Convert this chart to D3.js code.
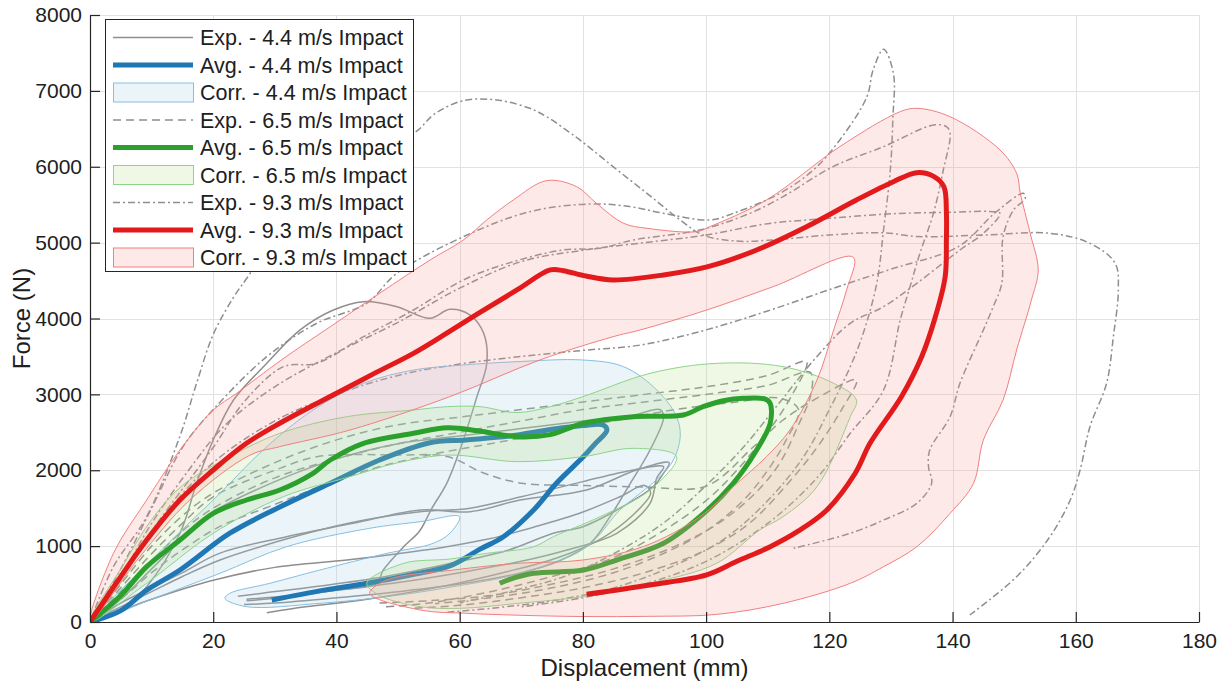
<!DOCTYPE html>
<html>
<head>
<meta charset="utf-8">
<script src="https://cdn.jsdelivr.net/npm/d3@7"></script>
<style>
  body { margin: 0; background: #fff; }
  text { font-family: "Liberation Sans", Arial, sans-serif; fill: #202020; }
</style>
</head>
<body>
<svg id="chart" width="1225" height="682"></svg>
<script>
// ---- axis ticks ----
const xTicks = [0, 20, 40, 60, 80, 100, 120, 140, 160, 180];
const yTicks = [0, 1000, 2000, 3000, 4000, 5000, 6000, 7000, 8000];

// ---- legend entries ----
const legendLabels = [
  "Exp. - 4.4 m/s Impact", "Avg. - 4.4 m/s Impact", "Corr. - 4.4 m/s Impact",
  "Exp. - 6.5 m/s Impact", "Avg. - 6.5 m/s Impact", "Corr. - 6.5 m/s Impact",
  "Exp. - 9.3 m/s Impact", "Avg. - 9.3 m/s Impact", "Corr. - 9.3 m/s Impact"
];

// ---- 4.4 m/s: experiments [displacement mm, force N] ----
const exp44a = [[0,0],[5,150],[9.2,465],[14.6,1169],[17.3,1828],[20,2399],[23.3,2926],[28.7,3409],[34.1,3849],[39.5,4112],[44.4,4222],[49.8,4156],[55.2,4003],[58.4,4122],[61.7,4046],[63.9,3805],[64.4,3409],[62.8,2970],[60.6,2399],[57.9,1828],[55.5,1500],[53.5,1200],[50.9,992],[47.6,685],[46.5,510],[40,420],[32,330],[25.4,280]];
const exp44b = [[0,0],[5,300],[10,700],[15,1100],[20,1450],[30,1850],[40,2150],[50,2350],[60,2450],[70,2550],[80,2650],[88,2720],[92.5,2800],[93.1,2700],[90.9,2267],[87.7,1828],[84.4,1388],[81.2,1037],[76,800],[70,650],[60,500],[50,400],[40,320],[30,250],[25,230]];
const exp44c = [[0,0],[5,200],[10,400],[15,600],[21.1,817],[30,1050],[37.3,1213],[45,1350],[53.6,1454],[61.7,1500],[70,1650],[80,1850],[88,2000],[93.1,2047],[92,1900],[90.9,1564],[85.5,1169],[77.4,949],[70,800],[60,650],[50,520],[40,420],[30,330],[25.4,300]];
const exp44d = [[0,0],[5,250],[10,450],[15,650],[21,905],[31.9,1124],[42.7,1300],[53.6,1476],[61.7,1454],[69.8,1608],[80.6,1740],[88.7,2003],[94,2100],[93,1950],[91.4,1783],[85.5,1476],[80,1256],[75.2,1169],[68,950],[59,780],[48,600],[37,470],[28,380],[24,340]];
const exp44e = [[0,0],[5,150],[10,300],[20,550],[30,720],[41.7,817],[50,900],[57.9,992],[65,1100],[72,1250],[80,1450],[86,1650],[90,1800],[91,1700],[88,1400],[83,1100],[76,850],[67,650],[56,450],[45,300],[35,200],[28.7,123]];

// ---- 4.4 m/s: average and corridor ----
const avg44 = [[0,0],[5,150],[9.2,420],[14.6,685],[22.7,1170],[30.8,1515],[39,1830],[47,2135],[55,2360],[61,2400],[68,2450],[75,2540],[80,2590],[83.3,2596],[83.9,2530],[82,2350],[80.1,2180],[75.7,1828],[72,1476],[67.1,1124],[63.3,960],[58.4,740],[52,620],[45,510],[38,420],[29.5,290]];
const corr44 = [[0,0],[5,420],[10,820],[15,1220],[21.1,1696],[28.1,2267],[36.2,2794],[44.4,3146],[52.5,3321],[60.6,3387],[69.3,3431],[80,3453],[86.6,3365],[92,3058],[95.2,2706],[95.8,2442],[94.7,2135],[92.5,1915],[89.3,1696],[86,1476],[80.6,992],[69.8,642],[59,466],[48.2,334],[37.3,246],[25.4,202],[21.9,312],[22.7,378],[29.2,510],[37.3,685],[48.2,905],[55.7,1037],[58.4,1169],[60,1388],[53.6,1322],[45.4,1235],[31.9,992],[21.1,642],[10,300]];

// ---- 6.5 m/s: experiments ----
const exp65a = [[0,0],[5,500],[10,1000],[15,1400],[20,1700],[30,2100],[40,2400],[50,2600],[60,2700],[70,2800],[80,2900],[90,3000],[100,3100],[110,3250],[116.3,3431],[114,3000],[110,2500],[105,2000],[100,1600],[93,1200],[85,850],[75,600],[65,400],[55,250],[48,200]];
const exp65b = [[0,0],[5,400],[10,800],[15,1200],[20,1500],[30,1900],[40,2150],[50,2350],[60,2500],[70,2650],[80,2800],[90,2900],[100,3000],[110,3120],[116.9,3290],[117,3000],[115,2600],[112,2100],[108,1700],[102,1300],[95,1000],[85,700],[75,500],[65,350],[55,280],[47,250]];
const exp65c = [[0,0],[5,450],[10,900],[15,1300],[20,1650],[30,2000],[37,2180],[50,2200],[58,2180],[64,1960],[70,1830],[80,1800],[90,1780],[100,1790],[107.7,2310],[112.5,2662],[118,2950],[124.4,3190],[122,2800],[118,2300],[113,1800],[107,1300],[100,950],[90,650],[80,450],[70,320],[60,220],[52,180]];
const exp65d = [[0,0],[5,300],[10,650],[15,950],[21,1256],[30,1550],[37.3,1783],[45,2000],[55,2200],[65,2350],[75,2500],[85,2650],[95,2800],[105,2900],[112,2950],[115,2800],[113,2400],[110,2000],[106,1600],[100,1200],[93,900],[85,650],[75,450],[65,320],[56,240]];

// ---- 6.5 m/s: average and corridor ----
const avg65 = [[0,0],[5,350],[9.2,729],[14.6,1080],[20,1432],[25.4,1608],[30.8,1740],[36.2,1960],[39,2135],[44.4,2355],[52.5,2487],[58,2560],[63,2520],[69.3,2442],[74.7,2470],[80.1,2619],[88.2,2706],[96.3,2728],[99.5,2838],[103,2920],[106,2948],[109.5,2940],[110.4,2882],[110.4,2619],[108.2,2267],[104.4,1828],[99,1388],[93.1,1037],[85.5,817],[80.1,685],[72,642],[68,560],[66.5,510]];
const corr65 = [[0,0],[5,700],[10,1350],[15,1800],[22.7,2179],[30.8,2487],[41.7,2706],[52.5,2794],[58,2838],[63.3,2838],[69.3,2760],[74.7,2838],[80,2970],[90.9,3277],[101.7,3409],[112.5,3365],[120.7,3146],[124.4,2926],[123.4,2706],[118,1783],[112.5,1388],[108.7,1213],[101.7,773],[90.9,510],[80,334],[69.5,246],[60,180],[53.6,202],[47,350],[44.9,510],[50.9,773],[58.4,830],[64.4,905],[72,992],[75.2,1124],[82.8,1388],[90.9,1740],[95.2,2179],[88.2,2289],[80,2179],[69.3,2113],[58.4,2200],[50,2100],[42.2,1915],[31.4,1652],[20,1169],[9.2,510]];

// ---- 9.3 m/s: experiments ----
const exp93a = [[0,0],[3.8,729],[9.2,1388],[14.6,2450],[17.3,3146],[20,3790],[23.3,4280],[26,4596],[29.2,5035],[35,5800],[45,6250],[52.5,6440],[56,6700],[60.6,6871],[66,6880],[71.4,6770],[74.1,6660],[79.5,6353],[84.9,6001],[90.4,5650],[95.8,5298],[99.5,5100],[105,5020],[110,5030],[120,5100],[128.8,5130],[134.2,5080],[145,5100],[155.8,5123],[162.3,4991],[166.4,4727],[166.9,4376],[166.1,3760],[165,3146],[162.3,2574],[160.7,2003],[159.1,1608],[155.8,1124],[150.4,597],[142.8,92]];
const exp93b = [[0,0],[5,700],[10,1500],[15,2300],[20,2800],[28.7,3497],[36.8,3937],[44.9,4200],[49.8,4596],[60.6,5078],[71.4,5408],[81.2,5509],[87.7,5474],[93.1,5386],[100.6,5298],[104.4,5386],[112,5650],[117.4,5957],[121.7,6353],[126.1,6923],[127.1,7275],[128.8,7548],[130.4,7231],[130.3,6616],[129.9,5957],[128.8,5167],[127.7,4464],[125.5,3805],[123.4,3365],[120,2800],[116,2200],[110,1600],[103,1100],[95,750],[85,450],[75,280],[65,180],[58,130]];
const exp93c = [[0,0],[10,1200],[20,2300],[25,2900],[31.4,3365],[36.8,3409],[44.4,3760],[52.5,4112],[60.6,4508],[68.7,4749],[76.8,4903],[82.8,4925],[88.2,5035],[99,5167],[107.1,5386],[112.5,5606],[120.6,6001],[128.8,6265],[136.9,6550],[139,6528],[139.6,6441],[138.5,5957],[136.9,5386],[134.7,4859],[133.1,4420],[131.5,3980],[128.8,3058],[123.4,2487],[118,1900],[110,1300],[100,800],[90,500],[80,320],[70,200]];
const exp93d = [[0,0],[6,700],[12,1400],[20,2100],[30,2650],[40,3000],[50,3250],[60,3400],[70,3500],[80,3580],[89.3,3650],[100,3850],[110,4100],[120,4380],[130,4650],[141,4950],[147,5400],[151.5,5650],[151.8,5584],[149.9,5430],[148.2,5078],[148,4464],[146.6,4156],[145,3849],[141.2,3146],[139.6,2706],[136.3,2267],[136.1,2047],[136.6,1828],[134.2,1564],[128.8,1344],[123.4,1169],[114.2,971]];
const exp93e = [[0,0],[5,600],[10,1300],[16,2000],[22,2600],[30,3100],[40,3550],[50,3950],[60,4400],[70,4750],[80,4900],[90,5000],[100,5100],[110,5250],[120,5320],[130,5380],[140,5400],[146,5410],[147.7,5386],[145,5123],[141.2,4903],[134.2,4464],[128.8,4156],[123.4,3937],[118,3500],[112,2900],[106,2300],[100,1800],[93,1300],[85,900],[77,600],[68,400],[60,250]];

// ---- 9.3 m/s: average and corridor ----
const avg93 = [[0,0],[4.5,540],[9.2,1080],[14.6,1608],[20,2003],[25.4,2355],[30.8,2619],[40,3014],[46,3270],[52.5,3541],[57,3760],[63.3,4080],[69.3,4376],[74.7,4640],[76.8,4630],[80.5,4560],[84.9,4508],[93.1,4574],[100.3,4683],[108.2,4903],[116.3,5210],[124.4,5562],[130.4,5803],[134.2,5922],[137,5870],[138.6,5737],[139,5400],[139,5035],[138.8,4550],[137.2,4020],[135,3500],[131.7,2970],[126.6,2355],[124.2,1960],[119.6,1476],[115,1200],[110.4,992],[105,800],[100.1,620],[90.9,488],[80.6,365]];
const corr93 = [[0,0],[3.8,905],[9.2,1608],[14.6,2267],[20,2794],[23.8,3014],[31,3450],[39,3892],[47,4332],[55.2,4771],[60.6,5035],[64.4,5298],[68.7,5562],[74.1,5817],[79,5737],[82.2,5518],[86.6,5255],[90.4,5189],[98.5,5145],[100.6,5210],[109.8,5562],[121.7,6265],[131.5,6726],[134.2,6770],[139.6,6660],[147.7,6221],[150.4,5913],[151,5650],[152.6,5123],[153.9,4640],[152.8,4244],[150.4,3585],[148.2,2926],[145,2399],[143.4,1828],[139.6,1432],[134.2,992],[128.8,729],[123.4,510],[112.5,246],[101.7,100],[90.9,75],[80,72],[69.3,90],[61.1,115],[53.6,158],[45.4,378],[48.2,554],[59,685],[69.3,773],[80,817],[90,1000],[99,1388],[104.4,1783],[109.8,2179],[113.6,2530],[118,3190],[120.7,3849],[122.8,4376],[123.9,4807],[110.9,4420],[100.1,4112],[89.3,3849],[84.9,3760],[73,3453],[58.4,2970],[42.2,2530],[30.8,2311],[26,2200],[16.2,1608],[8,850]];

// ---- layout ----
const svg = d3.select("#chart");
const x = d3.scaleLinear().domain([0, 180]).range([90, 1199]);
const y = d3.scaleLinear().domain([0, 8000]).range([622, 15]);
const ink = "#262626";
const gray = "#8e8e8e";

// grid
const grid = svg.append("g").attr("stroke", "#e2e2e2").attr("stroke-width", 1);
grid.selectAll("line.v").data(xTicks.slice(1)).join("line")
  .attr("x1", d => Math.round(x(d)) + 0.5).attr("x2", d => Math.round(x(d)) + 0.5)
  .attr("y1", y(0)).attr("y2", y(8000));
grid.selectAll("line.h").data(yTicks.slice(1)).join("line")
  .attr("x1", x(0)).attr("x2", x(180))
  .attr("y1", d => Math.round(y(d)) + 0.5).attr("y2", d => Math.round(y(d)) + 0.5);

svg.append("clipPath").attr("id", "plotArea").append("rect")
  .attr("x", x(0)).attr("y", y(8000)).attr("width", x(180) - x(0)).attr("height", y(0) - y(8000));
const plot = svg.append("g").attr("clip-path", "url(#plotArea)");

const curve = d3.line().x(d => x(d[0])).y(d => y(d[1])).curve(d3.curveCatmullRom.alpha(0.5));
const shape = d3.line().x(d => x(d[0])).y(d => y(d[1])).curve(d3.curveCatmullRomClosed.alpha(0.5));

const groups = [
  { exp: [exp44a, exp44b, exp44c, exp44d, exp44e], dash: null, avg: avg44, corr: corr44,
    color: "#1f77b4", fill: "rgb(166,206,227)", edge: "#84c0e2" },
  { exp: [exp65a, exp65b, exp65c, exp65d], dash: "8,5", avg: avg65, corr: corr65,
    color: "#2ca02c", fill: "rgb(178,223,138)", edge: "#8ed48a" },
  { exp: [exp93a, exp93b, exp93c, exp93d, exp93e], dash: "7,3,2,3", avg: avg93, corr: corr93,
    color: "#e31a1c", fill: "rgb(251,154,153)", edge: "#f27f7f" }
];

groups.forEach(g => {
  g.exp.forEach(c => {
    plot.append("path").attr("d", curve(c))
      .attr("fill", "none").attr("stroke", gray).attr("stroke-width", 1.5)
      .attr("stroke-dasharray", g.dash);
  });
});
groups.forEach(g => {
  plot.append("path").attr("d", shape(g.corr))
    .attr("fill", g.fill).attr("fill-opacity", 0.22)
    .attr("stroke", g.edge).attr("stroke-width", 1);
  plot.append("path").attr("d", curve(g.avg))
    .attr("fill", "none").attr("stroke", g.color).attr("stroke-width", 5)
    .attr("stroke-linejoin", "round");
});

// axes
const xAxis = svg.append("g").attr("transform", `translate(0,${y(0)})`)
  .call(d3.axisBottom(x).tickValues(xTicks).tickFormat(d3.format("d"))
    .tickSizeInner(-10).tickSizeOuter(0).tickPadding(11));
const yAxis = svg.append("g").attr("transform", `translate(${x(0)},0)`)
  .call(d3.axisLeft(y).tickValues(yTicks).tickFormat(d3.format("d"))
    .tickSizeInner(-10).tickSizeOuter(0).tickPadding(8));
[xAxis, yAxis].forEach(a => {
  a.attr("font-family", null).attr("font-size", null);
  a.select(".domain").attr("stroke", ink).attr("stroke-width", 1.2);
  a.selectAll(".tick line").attr("stroke", ink).attr("stroke-width", 1.2);
  a.selectAll(".tick text").attr("font-size", 21).attr("fill", "#202020");
});

svg.append("text").attr("x", (x(0) + x(180)) / 2).attr("y", 676)
  .attr("text-anchor", "middle").attr("font-size", 24).text("Displacement (mm)");
svg.append("text").attr("transform", `translate(30,${(y(0) + y(8000)) / 2}) rotate(-90)`)
  .attr("text-anchor", "middle").attr("font-size", 24).text("Force (N)");

// legend
const legend = svg.append("g");
legend.append("rect").attr("x", 105.5).attr("y", 19.5).attr("width", 308).attr("height", 252)
  .attr("fill", "#fff").attr("stroke", ink).attr("stroke-width", 1);
const rowY = i => 37.5 + i * 27.5;
groups.forEach((g, k) => {
  const r0 = k * 3;
  legend.append("line").attr("x1", 113).attr("x2", 193).attr("y1", rowY(r0)).attr("y2", rowY(r0))
    .attr("stroke", gray).attr("stroke-width", 1.5).attr("stroke-dasharray", g.dash);
  legend.append("line").attr("x1", 113).attr("x2", 193).attr("y1", rowY(r0 + 1)).attr("y2", rowY(r0 + 1))
    .attr("stroke", g.color).attr("stroke-width", 5);
  legend.append("rect").attr("x", 113.5).attr("y", rowY(r0 + 2) - 9.5).attr("width", 80).attr("height", 19)
    .attr("fill", g.fill).attr("fill-opacity", 0.22).attr("stroke", g.edge).attr("stroke-width", 1);
});
legend.selectAll("text.lab").data(legendLabels).join("text")
  .attr("x", 200).attr("y", (d, i) => rowY(i) + 7.5).attr("font-size", 21.5).text(d => d);
</script>
</body>
</html>
